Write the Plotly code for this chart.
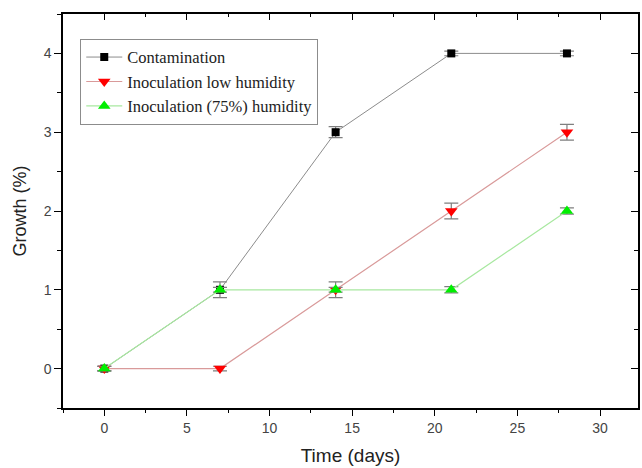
import plotly.graph_objects as go

days = [0, 7, 14, 21, 28]
contamination = [0, 1, 3, 4, 4]
contamination_err = [0.03, 0.1, 0.07, 0.03, 0.03]
low_humidity = [0, 0, 1, 2, 3]
low_humidity_err = [0.03, 0.03, 0.1, 0.1, 0.1]
humidity75 = [0, 1, 1, 1, 2]
humidity75_err = [0.03, 0.03, 0.03, 0.04, 0.04]

x_range = [-2.5, 32.3]
y_range = [-0.5, 4.5]

fig = go.Figure()

def err(vals):
    return dict(type="data", array=vals, visible=True, color="#7f7f7f", thickness=1.2, width=7)

fig.add_trace(go.Scatter(
    x=days, y=contamination, name="Contamination", mode="lines+markers",
    line=dict(color="#8c8c8c", width=1),
    marker=dict(symbol="square", size=8, color="black"),
    error_y=err(contamination_err),
))
fig.add_trace(go.Scatter(
    x=days, y=low_humidity, name="Inoculation low humidity", mode="lines+markers",
    line=dict(color="#d99a9a", width=1.2),
    marker=dict(symbol="triangle-down", size=11, color="#ff0000"),
    error_y=err(low_humidity_err),
))
fig.add_trace(go.Scatter(
    x=days, y=humidity75, name="Inoculation (75%) humidity", mode="lines+markers",
    line=dict(color="#a8e8a0", width=1.2),
    marker=dict(symbol="triangle-up", size=11, color="#00ee00"),
    error_y=err(humidity75_err),
))

tickfont = dict(family="Liberation Sans", size=14, color="#444444")

fig.update_layout(
    width=642, height=468,
    margin=dict(l=63, r=4, t=14, b=60),
    paper_bgcolor="white", plot_bgcolor="white",
    showlegend=True,
    legend=dict(
        x=0.03, y=0.937, xanchor="left", yanchor="top",
        bordercolor="#8c8c8c", borderwidth=1, bgcolor="white",
        font=dict(family="Liberation Serif", size=16.5, color="#222222"),
        tracegroupgap=0, itemwidth=36,
    ),
    xaxis=dict(
        range=x_range, tickvals=[0, 5, 10, 15, 20, 25, 30],
        ticks="outside", ticklen=6, tickwidth=1.3, tickcolor="black",
        minor=dict(dtick=2.5, tick0=0, ticks="outside", ticklen=3, tickwidth=1.3, tickcolor="black"),
        showline=True, linecolor="black", linewidth=1.5,
        showgrid=False, zeroline=False, tickfont=tickfont,
        title=dict(text="Time (days)", font=dict(family="Liberation Sans", size=19, color="#222222"), standoff=14),
    ),
    yaxis=dict(
        range=y_range, tickvals=[0, 1, 2, 3, 4],
        ticks="outside", ticklen=7, tickwidth=1.3, tickcolor="black",
        minor=dict(dtick=0.5, tick0=0, ticks="outside", ticklen=4, tickwidth=1.3, tickcolor="black"),
        showline=True, linecolor="black", linewidth=1.5,
        showgrid=False, zeroline=False, tickfont=tickfont,
        title=dict(text="Growth (%)", font=dict(family="Liberation Sans", size=18, color="#222222"), standoff=12),
    ),
    xaxis2=dict(
        range=x_range, overlaying="x", side="top", tickvals=[0, 5, 10, 15, 20, 25, 30],
        ticks="inside", ticklen=6, tickwidth=1.3, tickcolor="black",
        minor=dict(dtick=2.5, tick0=0, ticks="inside", ticklen=3, tickwidth=1.3, tickcolor="black"),
        showline=True, linecolor="black", linewidth=1.5,
        showticklabels=False, showgrid=False, zeroline=False,
    ),
    yaxis2=dict(
        range=y_range, overlaying="y", side="right", tickvals=[0, 1, 2, 3, 4],
        ticks="inside", ticklen=7, tickwidth=1.3, tickcolor="black",
        minor=dict(dtick=0.5, tick0=0, ticks="inside", ticklen=4, tickwidth=1.3, tickcolor="black"),
        showline=True, linecolor="black", linewidth=1.5,
        showticklabels=False, showgrid=False, zeroline=False,
    ),
)

# invisible trace to activate the mirrored axes
fig.add_trace(go.Scatter(x=[None], y=[None], xaxis="x2", yaxis="y2", showlegend=False, hoverinfo="skip"))

fig.write_html("out.html")
